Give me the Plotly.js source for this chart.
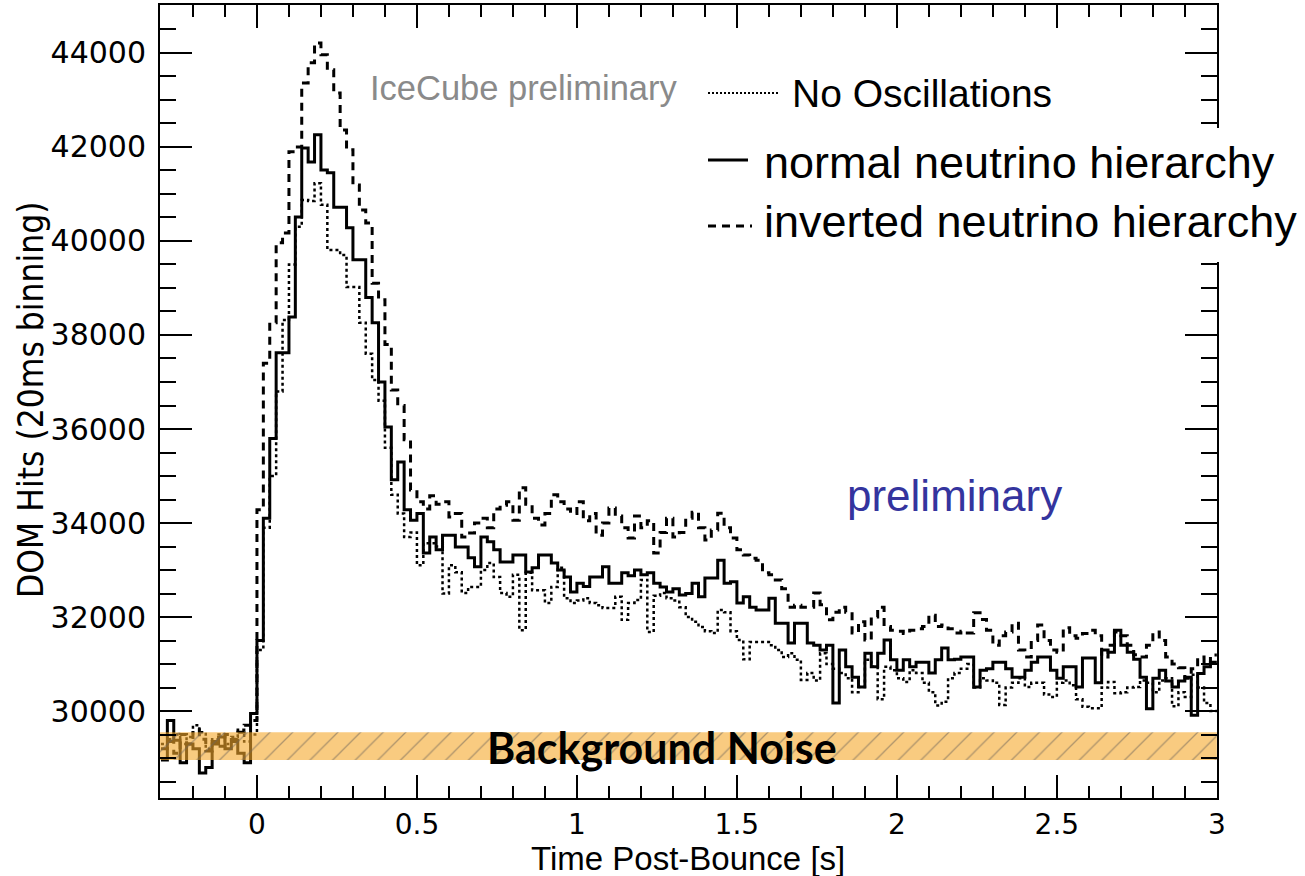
<!DOCTYPE html>
<html>
<head>
<meta charset="utf-8">
<script src="https://cdn.plot.ly/plotly-3.0.1.min.js"></script>
<style>
  html, body { margin: 0; padding: 0; background: #fff; }
  #chart { width: 1305px; height: 876px; }
</style>
</head>
<body>
<div id="chart"></div>
<script>
// ---- Data (DOM hits per 20 ms bin) ----
const BIN_START = -0.30;   // s, left edge of first bin
const BIN_WIDTH = 0.02;    // s (20 ms binning)

// No Oscillations (dotted)
const noOscillations = [
  29300, 29400, 29500, 29300, 29450, 29700, 29550, 29200, 29400, 29500, 29300, 29450, 29600, 29350, 29500,
  31300, 33900, 35000, 36800, 38320, 39500, 40300, 40870, 40850, 41230, 40770, 39810, 39810, 39700, 39020,
  39020, 38260, 37600, 37040, 36600, 35600, 34600, 34200, 33700, 33800, 33100, 33570, 33570, 33500, 32500,
  33100, 32950, 32510, 32640, 32640, 33000, 33150, 32850, 32510, 32430, 32900, 31720, 32940, 32570, 32570,
  32300, 32640, 33050, 32400, 32300, 32350, 32400, 32300, 32250, 32190, 32190, 32430, 31940, 32300, 32360,
  32790, 31680, 32450, 32510, 32400, 32350, 32210, 32000, 31900, 31790, 31700, 31660, 32150, 32100, 31700,
  31510, 31100, 31470, 31470, 31470, 31400, 31300, 31150, 31230, 31090, 30660, 30810, 30650, 31230, 31000,
  30900, 30810, 30700, 30400, 30510, 31090, 30940, 30250, 30940, 30870, 30700, 30620, 30870, 30810, 30600,
  30400, 30120, 30200, 30700, 30810, 30900, 31000, 30500, 30700, 30650, 30600, 30130, 30500, 30600, 30700,
  30510, 30600, 30600, 30350, 30300, 30600, 30650, 30550, 30250, 30090, 30060, 30060, 30500, 30620, 30380,
  30400, 30500, 30510, 30650, 30600, 30400, 30650, 30700, 30100, 30400, 30300, 30770, 30500, 30170, 30000
];

// normal neutrino hierarchy (solid)
const normalHierarchy = [
  28960, 29800, 29380, 28900, 29300, 29200, 28680, 28800, 29300, 29450, 29200, 29350, 29100, 28900, 29950,
  31500, 34100, 35800, 37620, 37620, 38380, 40510, 41980, 41680, 42260, 41510, 41450, 40720, 40720, 40280,
  39600, 39600, 38800, 38260, 37000, 36040, 34920, 35300, 34280, 34060, 34200, 33360, 33700, 33430, 33740,
  33740, 33490, 33490, 33260, 33070, 33700, 33600, 33430, 33170, 33170, 33320, 33320, 32960, 33050, 33320,
  33320, 33150, 33000, 32850, 32530, 32720, 32650, 32850, 32850, 33070, 32720, 32720, 32940, 32880, 33000,
  32900, 32940, 32720, 32640, 32530, 32600, 32470, 32500, 32720, 32430, 32830, 32830, 33210, 32720, 32750,
  32300, 32430, 32210, 32150, 32150, 32400, 31870, 31870, 31450, 31870, 31870, 31450, 31400, 31300, 31400,
  30170, 31300, 30940, 30720, 30510, 31230, 30940, 31230, 31510, 31090, 30870, 31090, 30940, 31040, 31040,
  30810, 31090, 31340, 31090, 31100, 31150, 31150, 30510, 30870, 30900, 31040, 31040, 30900, 30720, 30720,
  30870, 31040, 31150, 31150, 30870, 30700, 30940, 30940, 30510, 31130, 31130, 30600, 31300, 31250, 31720,
  31400, 31250, 31100, 30720, 30050, 30700, 30870, 30640, 30510, 30640, 30720, 29910, 30800, 30940, 31040
];

// inverted neutrino hierarchy (dashed)
const invertedHierarchy = [
  29200, 29350, 29100, 29500, 29300, 29600, 29400, 29150, 29350, 29250, 29500, 29400, 29550, 29700, 29800,
  34280, 37400, 38260, 39960, 40170, 41900, 42000, 43360, 43790, 44210, 43960, 43640, 43150, 42360, 41940,
  41190, 40660, 40380, 39100, 38750, 37800, 36830, 36500, 35770, 34700, 34450, 34300, 34580, 34400, 34450,
  34130, 34200, 33700, 33790, 34000, 34100, 33900, 34300, 34380, 34450, 34060, 34750, 34400, 34100, 33960,
  34200, 34600, 34450, 34300, 34200, 34450, 34050, 34200, 33740, 34000, 34320, 34150, 33900, 33680, 34150,
  33900, 34050, 33360, 33800, 34100, 33700, 33800, 34100, 34230, 33900, 33640, 33850, 34210, 33900, 33680,
  33430, 33320, 33250, 33210, 32940, 32900, 32790, 32600, 32210, 32250, 32210, 32210, 32510, 32260, 31940,
  32100, 32210, 32100, 31660, 31900, 31510, 32000, 32210, 31800, 31720, 31700, 31650, 31720, 31750, 31800,
  32040, 31800, 31830, 31750, 31660, 31700, 31660, 32090, 31950, 31720, 31400, 31600, 31680, 31870, 31300,
  31150, 31500, 31830, 31500, 31300, 31250, 31770, 31600, 31550, 31650, 31720, 31600, 31150, 31400, 31680,
  31600, 31400, 31200, 31150, 31400, 31680, 31500, 31150, 31000, 30920, 30700, 30900, 31150, 31000, 31190
];

// Background-noise band
const bandTimes = [-0.303, 3.0];
const bandLow = 28960;
const bandHigh = 29550;

// Axis ranges
const xRange = [-0.303, 3.0005];
const yRange = [28150, 45020];

// ---- Build step histograms (bin edges, last value repeated at right edge) ----
function stepX(n) {
  const edges = [];
  for (let i = 0; i <= n; i++) edges.push(+(BIN_START + i * BIN_WIDTH).toFixed(2));
  return edges;
}
function stepY(vals) { return vals.concat([vals[vals.length - 1]]); }

const traces = [
  {
    name: 'No Oscillations', type: 'scatter', mode: 'lines',
    x: stepX(noOscillations.length), y: stepY(noOscillations),
    line: { shape: 'hv', color: '#000', width: 2.5, dash: '3px,3px' },
    hoverinfo: 'skip'
  },
  {
    name: 'normal neutrino hierarchy', type: 'scatter', mode: 'lines',
    x: stepX(normalHierarchy.length), y: stepY(normalHierarchy),
    line: { shape: 'hv', color: '#000', width: 3 },
    hoverinfo: 'skip'
  },
  {
    name: 'inverted neutrino hierarchy', type: 'scatter', mode: 'lines',
    x: stepX(invertedHierarchy.length), y: stepY(invertedHierarchy),
    line: { shape: 'hv', color: '#000', width: 3, dash: '8px,6px' },
    hoverinfo: 'skip'
  },
  {
    name: 'Background Noise', type: 'scatter', mode: 'lines',
    x: [bandTimes[0], bandTimes[1], bandTimes[1], bandTimes[0], bandTimes[0]],
    y: [bandLow, bandLow, bandHigh, bandHigh, bandLow],
    fill: 'toself',
    fillcolor: 'rgba(245,168,43,0.6)',
    fillpattern: { shape: '/', fgcolor: 'rgba(110,100,90,0.55)', bgcolor: 'rgba(245,168,43,0.6)', size: 16, solidity: 0.08, fillmode: 'replace' },
    line: { width: 0 },
    hoverinfo: 'skip'
  }
];

const L = 160, R = 1217, T = 5, B = 798;
const px = v => (v - L) / (R - L);
const py = v => (B - v) / (B - T);

const fontMain = 'Liberation Sans, Arial, Helvetica, sans-serif';
const fontNarrow = 'Liberation Sans Narrow, DejaVu Sans Condensed, Arial Narrow, Liberation Sans, sans-serif';
const fontTicks = 'DejaVu Sans, Verdana, sans-serif';

const layout = {
  width: 1305, height: 876,
  margin: { l: L, r: 1305 - R, t: T, b: 876 - B },
  paper_bgcolor: '#fff', plot_bgcolor: '#fff',
  showlegend: false,
  xaxis: {
    range: xRange, tick0: 0, dtick: 0.5,
    ticks: 'inside', ticklen: 23, tickwidth: 2, tickcolor: '#000',
    showline: true, linewidth: 2, linecolor: '#000', mirror: 'allticks',
    showgrid: false, zeroline: false,
    minor: { ticks: 'inside', dtick: 0.1, ticklen: 12, tickwidth: 2, tickcolor: '#000', showgrid: false },
    tickfont: { family: fontTicks, size: 28, color: '#000' },
    ticklabelstandoff: 0
  },
  yaxis: {
    range: yRange, tick0: 0, dtick: 2000, tickformat: 'd',
    ticks: 'inside', ticklen: 32, tickwidth: 2, tickcolor: '#000',
    showline: true, linewidth: 2, linecolor: '#000', mirror: 'allticks',
    showgrid: false, zeroline: false,
    minor: { ticks: 'inside', dtick: 500, ticklen: 16, tickwidth: 2, tickcolor: '#000', showgrid: false },
    tickfont: { family: fontTicks, size: 30, color: '#000' },
    ticklabelstandoff: 6
  },
  shapes: [
    // white patch covering part of the right frame (pasted legend box)
    { type: 'rect', xref: 'paper', yref: 'paper', x0: px(700), x1: px(1305), y0: py(262), y1: py(128),
      fillcolor: '#fff', line: { width: 0 }, layer: 'above' },
    // legend line samples
    { type: 'line', xref: 'paper', yref: 'paper', x0: px(708), x1: px(779), y0: py(93), y1: py(93),
      line: { color: '#000', width: 2, dash: '2px,2px' }, layer: 'above' },
    { type: 'line', xref: 'paper', yref: 'paper', x0: px(708), x1: px(748), y0: py(160), y1: py(160),
      line: { color: '#000', width: 3 }, layer: 'above' },
    { type: 'line', xref: 'paper', yref: 'paper', x0: px(708), x1: px(752), y0: py(226), y1: py(226),
      line: { color: '#000', width: 3, dash: '8px,6px' }, layer: 'above' }
  ],
  annotations: [
    { text: 'IceCube preliminary', xref: 'paper', yref: 'paper', x: px(524), y: py(88),
      xanchor: 'center', yanchor: 'middle', showarrow: false,
      font: { family: fontMain, size: 34.5, color: '#8a8a8a' } },
    { text: 'No Oscillations', xref: 'paper', yref: 'paper', x: px(790), y: py(93),
      xanchor: 'left', yanchor: 'middle', showarrow: false,
      font: { family: fontMain, size: 39, color: '#000' } },
    { text: 'normal neutrino hierarchy', xref: 'paper', yref: 'paper', x: px(762), y: py(163),
      xanchor: 'left', yanchor: 'middle', showarrow: false,
      font: { family: fontMain, size: 45, color: '#000' } },
    { text: 'inverted neutrino hierarchy', xref: 'paper', yref: 'paper', x: px(762), y: py(222),
      xanchor: 'left', yanchor: 'middle', showarrow: false,
      font: { family: fontMain, size: 45, color: '#000' } },
    { text: 'preliminary', xref: 'paper', yref: 'paper', x: px(845), y: py(495),
      xanchor: 'left', yanchor: 'middle', showarrow: false,
      font: { family: fontMain, size: 44, color: '#34349e' } },
    { text: '<b>Background Noise</b>', xref: 'paper', yref: 'paper', x: px(662), y: py(747),
      xanchor: 'center', yanchor: 'middle', showarrow: false,
      font: { family: 'Lato, Open Sans, sans-serif', size: 43, color: '#000' } },
    { text: 'Time Post-Bounce [s]', xref: 'paper', yref: 'paper', x: px(688), y: py(858.5),
      xanchor: 'center', yanchor: 'middle', showarrow: false,
      font: { family: fontMain, size: 33, color: '#000' } },
    { text: 'DOM Hits (20ms binning)', xref: 'paper', yref: 'paper', x: px(31), y: py(400),
      xanchor: 'center', yanchor: 'middle', showarrow: false, textangle: -90,
      font: { family: fontNarrow, size: 35, color: '#000' } }
  ]
};

Plotly.newPlot('chart', traces, layout, { displayModeBar: false, staticPlot: true });
</script>
</body>
</html>
